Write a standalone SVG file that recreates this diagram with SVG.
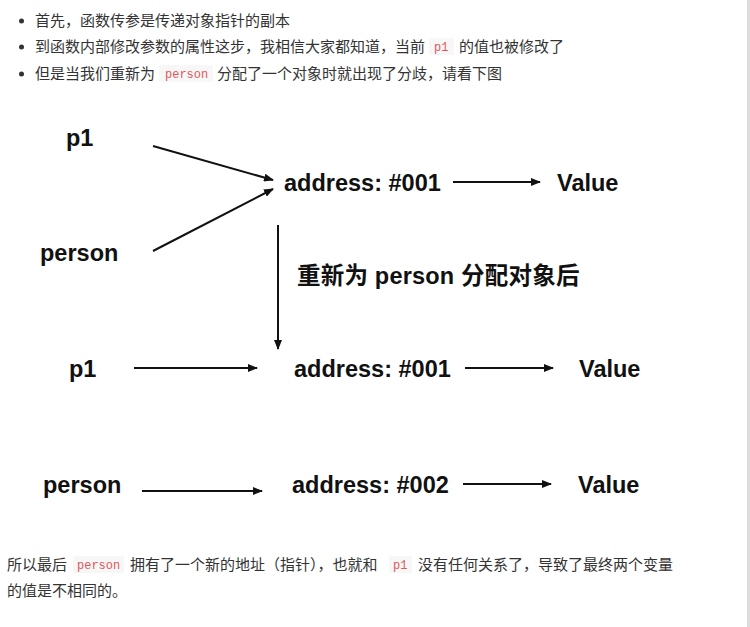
<svg xmlns="http://www.w3.org/2000/svg" width="750" height="627" viewBox="0 0 750 627">
<style>
.body{font-family:"Noto Sans CJK SC","Liberation Sans",sans-serif;font-size:15px;fill:#333}
.code{font-family:"Liberation Mono",monospace;font-size:12px;fill:#e0575b}
.cbg{fill:#f7f7f7}
.lbl{font-family:"Liberation Sans","Noto Sans CJK SC",sans-serif;font-size:23.5px;font-weight:bold;fill:#111}
.cap{letter-spacing:0.2px}
.conn{stroke:#111;stroke-width:2;fill:none;marker-end:url(#ah)}
</style>
<defs>
<marker id="ah" markerUnits="userSpaceOnUse" markerWidth="10" markerHeight="8" refX="9" refY="4" orient="auto">
<path d="M0,0 L10,4 L0,8 z" fill="#111"/>
</marker>
</defs>
<rect width="750" height="627" fill="#fff"/>
<rect x="747" y="0" width="3" height="627" fill="#dcdcdc"/>

<g id="intro">
<circle cx="21.5" cy="21" r="2.5" fill="#333"/>
<text class="body" x="35" y="26">首先，函数传参是传递对象指针的副本</text>
<circle cx="21.5" cy="47" r="2.5" fill="#333"/>
<text class="body" x="35" y="52">到函数内部修改参数的属性这步，我相信大家都知道，当前</text>
<rect class="cbg" x="429" y="38" width="25" height="17" rx="2"/>
<text class="code" x="434" y="51">p1</text>
<text class="body" x="459" y="52">的值也被修改了</text>
<circle cx="21.5" cy="74" r="2.5" fill="#333"/>
<text class="body" x="35" y="79">但是当我们重新为</text>
<rect class="cbg" x="159" y="65" width="54" height="17" rx="2"/>
<text class="code" x="165" y="78">person</text>
<text class="body" x="217" y="79">分配了一个对象时就出现了分歧，请看下图</text>
</g>

<g id="p1-a"><text class="lbl" x="66" y="146">p1</text></g>
<g id="person-a"><text class="lbl" x="40" y="261">person</text></g>
<g id="addr-a"><text class="lbl" x="284" y="191">address: #001</text></g>
<g id="value-a"><text class="lbl" x="557" y="191">Value</text></g>
<g id="caption"><text class="lbl cap" x="297" y="284">重新为 person 分配对象后</text></g>
<g id="p1-b"><text class="lbl" x="69" y="377">p1</text></g>
<g id="addr-b"><text class="lbl" x="294" y="377">address: #001</text></g>
<g id="value-b"><text class="lbl" x="579" y="377">Value</text></g>
<g id="person-c"><text class="lbl" x="43" y="493">person</text></g>
<g id="addr-c"><text class="lbl" x="292" y="493">address: #002</text></g>
<g id="value-c"><text class="lbl" x="578" y="493">Value</text></g>

<g id="connectors">
<line class="conn" x1="153" y1="146" x2="273" y2="180"/>
<line class="conn" x1="153" y1="251" x2="273" y2="189"/>
<line class="conn" x1="453" y1="182" x2="540" y2="182"/>
<line class="conn" x1="278" y1="225" x2="278" y2="349"/>
<line class="conn" x1="134" y1="368" x2="257" y2="368"/>
<line class="conn" x1="465" y1="368" x2="553" y2="368"/>
<line class="conn" x1="142" y1="491" x2="262" y2="491"/>
<line class="conn" x1="463" y1="484" x2="551" y2="484"/>
</g>

<g id="summary">
<text class="body" x="7" y="570">所以最后</text>
<rect class="cbg" x="73" y="556" width="51" height="17" rx="2"/>
<text class="code" x="77" y="569">person</text>
<text class="body" x="130" y="570">拥有了一个新的地址（指针），也就和</text>
<rect class="cbg" x="389" y="556" width="23" height="17" rx="2"/>
<text class="code" x="393" y="569">p1</text>
<text class="body" x="418" y="570">没有任何关系了，导致了最终两个变量</text>
<text class="body" x="7" y="596">的值是不相同的。</text>
</g>
</svg>
